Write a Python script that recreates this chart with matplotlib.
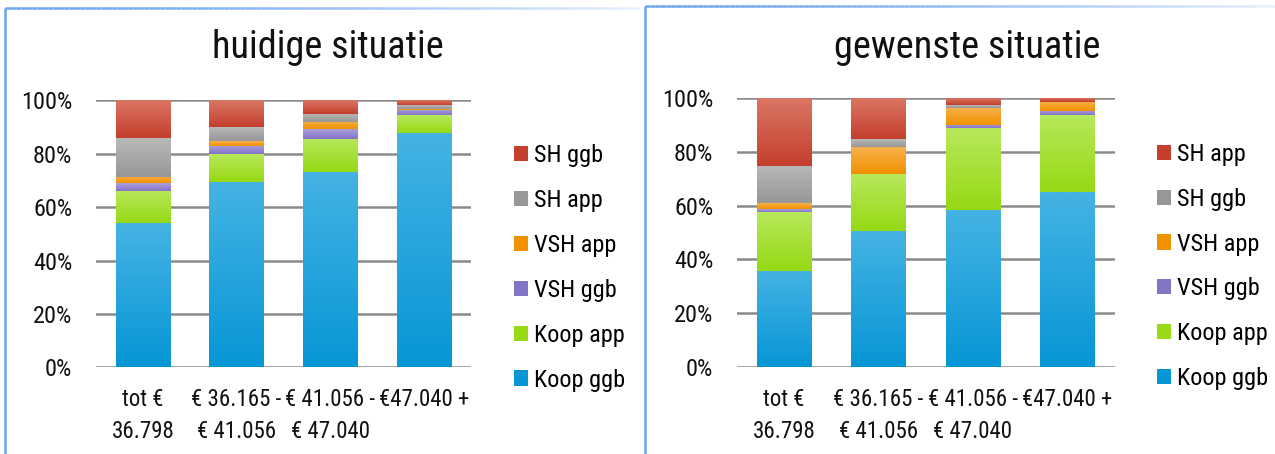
import numpy as np
import matplotlib
matplotlib.use("Agg")
import matplotlib.pyplot as plt
from matplotlib import font_manager
from matplotlib.collections import LineCollection
from matplotlib.patches import Patch
from matplotlib.ticker import PercentFormatter


def pick_narrow_font():
    """Return (family, stretch) of the narrowest sans family available."""
    entries = font_manager.fontManager.ttflist
    names = {(f.name, str(f.stretch)) for f in entries}
    fams = {f.name for f in entries}
    for fam in ["Liberation Sans Narrow", "Roboto Condensed", "Noto Sans Condensed",
                "Open Sans Condensed", "DejaVu Sans Condensed"]:
        if fam in fams:
            return fam, "normal"
    for fam in ["Roboto", "Noto Sans", "Open Sans", "DejaVu Sans"]:
        for st in ["condensed", "semi-condensed", "75", "87.5", "62.5"]:
            if (fam, st) in names:
                return fam, st
    return "DejaVu Sans", "normal"


FAMILY, STRETCH = pick_narrow_font()
plt.rcParams['font.family'] = [FAMILY, 'DejaVu Sans']
plt.rcParams['font.stretch'] = STRETCH

# Income groups
categories = ["tot €\n36.798", "€ 36.165 -\n€ 41.056", "€ 41.056 -\n€ 47.040", "€47.040 +"]

# Current housing situation (share per income group, %)
cur_koop_ggb = [54.0, 69.4, 73.1, 87.8]
cur_koop_app = [12.0, 10.6, 12.4, 6.7]
cur_vsh_ggb = [2.9, 3.0, 3.6, 2.0]
cur_vsh_app = [2.4, 1.8, 2.8, 0.4]
cur_sh_app = [14.6, 5.2, 3.0, 1.3]
cur_sh_ggb = [14.1, 10.0, 5.1, 1.8]

# Desired housing situation (share per income group, %)
des_koop_ggb = [35.8, 50.7, 58.4, 65.1]
des_koop_app = [22.0, 21.1, 30.5, 28.7]
des_vsh_ggb = [1.1, 0.2, 1.2, 1.5]
des_vsh_app = [2.1, 9.9, 6.3, 3.4]
des_sh_ggb = [13.8, 2.9, 1.1, 0.1]
des_sh_app = [25.2, 15.2, 2.5, 1.3]

# (top colour, bottom colour) of each fill gradient
BLUE = ("#45b3e3", "#0796d6")
GREEN = ("#b8e85c", "#96d914")
PURPLE = ("#aaa0dc", "#8474c6")
ORANGE = ("#f7b04a", "#f29100")
GRAY = ("#b8b8b8", "#979797")
RED = ("#da7564", "#c43f2c")


def hex_rgb(h):
    h = h.lstrip("#")
    return np.array([int(h[i:i + 2], 16) / 255 for i in (0, 2, 4)])


def gradient_bars(ax, x, bottoms, heights, colors, width):
    bars = ax.bar(x, heights, width, bottom=bottoms, color=colors[1], linewidth=0, zorder=2)
    top, bot = hex_rgb(colors[0]), hex_rgb(colors[1])
    t = np.linspace(0, 1, 128)[:, None]
    img = (bot[None, :] * (1 - t) + top[None, :] * t)[:, None, :]
    for r in bars:
        if r.get_height() <= 0:
            continue
        x0, y0 = r.get_x(), r.get_y()
        ax.imshow(img, extent=[x0, x0 + r.get_width(), y0, y0 + r.get_height()],
                  origin="lower", aspect="auto", interpolation="bilinear", zorder=3)
    return bars


def panel(ax, title_x, title, series, legend_x, legend_y):
    x = np.arange(len(categories))
    bottom = np.zeros(len(categories))
    handles = []
    for label, vals, col in series:
        vals = np.array(vals)
        gradient_bars(ax, x, bottom, vals, col, 0.58)
        bottom = bottom + vals
        handles.append(Patch(facecolor=col[1], edgecolor="none", label=label))
    ax.set_xlim(-0.5, 3.5)
    ax.set_ylim(0, 100)
    ax.set_yticks([0, 20, 40, 60, 80, 100])
    ax.yaxis.set_major_formatter(PercentFormatter(decimals=0))
    ax.set_xticks(x)
    ax.set_xticklabels(categories, linespacing=1.5)
    ax.tick_params(axis="both", length=0, colors="#111111")
    ax.tick_params(axis="y", pad=17, labelsize=17.5)
    ax.tick_params(axis="x", pad=15, labelsize=16.5)
    ax.grid(axis="y", color="#8a8a8a", linewidth=1.8, zorder=0)
    ax.set_axisbelow(True)
    for s in ax.spines.values():
        s.set_visible(False)
    ax.figure.text(title_x, 0.895, title, ha="center", va="center", fontsize=27.5, color="#111111")
    ax.figure.legend(handles=handles[::-1], loc="center left",
                     bbox_to_anchor=(legend_x, legend_y), frameon=False,
                     fontsize=17.5, handlelength=0.58, handleheight=0.58,
                     handletextpad=0.25, labelspacing=0.9, borderpad=0,
                     borderaxespad=0)


fig = plt.figure(figsize=(12.75, 4.54), dpi=100)

ax1 = fig.add_axes([96 / 1275, 0.191, 375 / 1275, 0.588])
panel(ax1, 328 / 1275, "huidige situatie",
      [("Koop ggb", cur_koop_ggb, BLUE), ("Koop app", cur_koop_app, GREEN),
       ("VSH ggb", cur_vsh_ggb, PURPLE), ("VSH app", cur_vsh_app, ORANGE),
       ("SH app", cur_sh_app, GRAY), ("SH ggb", cur_sh_ggb, RED)],
      513.5 / 1275, 0.410)

ax2 = fig.add_axes([737 / 1275, 0.192, 377.5 / 1275, 0.5914])
panel(ax2, 967.5 / 1275, "gewenste situatie",
      [("Koop ggb", des_koop_ggb, BLUE), ("Koop app", des_koop_app, GREEN),
       ("VSH ggb", des_vsh_ggb, PURPLE), ("VSH app", des_vsh_app, ORANGE),
       ("SH ggb", des_sh_ggb, GRAY), ("SH app", des_sh_app, RED)],
      1156.5 / 1275, 0.413)

# Panel frames: solid left edge, top edge fading out to the right
over = fig.add_axes([0, 0, 1, 1], zorder=-1)
over.set_xlim(0, 1275)
over.set_ylim(454, 0)
over.axis("off")
frame_rgb = hex_rgb("#6aa3f3")
for x_left, y_top, x_right in [(5, 7.5, 640), (644.5, 5.5, 1275)]:
    over.plot([x_left, x_left], [y_top, 454], color=frame_rgb, lw=1.8, solid_capstyle="butt")
    xs = np.linspace(x_left, x_right, 120)
    segs = [[(xs[i], y_top), (xs[i + 1], y_top)] for i in range(len(xs) - 1)]
    alphas = np.clip(1.0 - np.linspace(0, 1, len(segs)) ** 1.5 * 0.85, 0, 1)
    cols = [(*frame_rgb, a) for a in alphas]
    over.add_collection(LineCollection(segs, colors=cols, linewidths=1.8))

fig.savefig("out.png", dpi=100)
